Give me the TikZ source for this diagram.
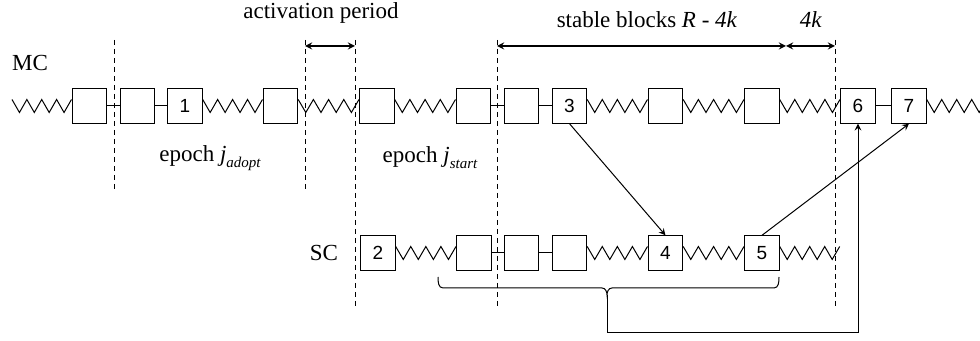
\documentclass[tikz,border=0pt]{standalone}
\usepackage{fontspec}
\setmainfont{Liberation Serif}
\newfontfamily\boxfont{Liberation Sans}
\usetikzlibrary{arrows,decorations}

% zigzag that starts and ends on a peak, always 4 vees
\pgfdeclaredecoration{forkzig}{start}{
  \state{start}[width=+0pt, next state=down,
    persistent precomputation={\pgfmathsetlengthmacro\zighalf{\pgfdecoratedpathlength/8-0.02pt}}]
    {\pgfpathmoveto{\pgfqpoint{0pt}{\pgfdecorationsegmentamplitude}}}
  \state{down}[width=+\zighalf, next state=up]
    {\pgfpathlineto{\pgfqpoint{\zighalf}{-\pgfdecorationsegmentamplitude}}}
  \state{up}[width=+\zighalf, next state=down]
    {\pgfpathlineto{\pgfqpoint{\zighalf}{\pgfdecorationsegmentamplitude}}}
  \state{final}{}
}

\begin{document}
\begin{tikzpicture}[x=0.5pt, y=-0.5pt,
    blk/.style={rectangle, draw=black, line width=0.5pt, minimum size=17.2pt,
                inner sep=0pt, font=\boxfont\fontsize{9.5}{9.5}\selectfont},
    link/.style={line width=0.5pt},
    wavy/.style={line width=0.5pt, decorate,
                 decoration={forkzig, amplitude=3.25pt}},
    epochline/.style={dashed, dash pattern=on 2.5pt off 2pt, line width=0.5pt},
    span/.style={<->, >=stealth, line width=0.6pt},
    arrow/.style={->, >=stealth, line width=0.5pt},
    lbl/.style={font=\fontsize{11.5}{13}\selectfont, inner sep=0pt}
]
    \useasboundingbox (0,0) rectangle (980,341);

    % Chain labels
    \node[lbl] (mclabel) at (30,63) {MC};
    \node[lbl] (sclabel) at (324,253) {SC};

    % Main chain blocks
    \node[blk] (m1) at (89.5,106) {};
    \node[blk] (m2) at (137.5,106) {};
    \node[blk] (m3) at (185,106) {1};
    \node[blk] (m4) at (280.5,106) {};
    \node[blk] (m5) at (377,106) {};
    \node[blk] (m6) at (473.5,106) {};
    \node[blk] (m7) at (521.5,106) {};
    \node[blk] (m8) at (569.5,106) {3};
    \node[blk] (m9) at (665.5,106) {};
    \node[blk] (m10) at (762,106) {};
    \node[blk] (m11) at (858,106) {6};
    \node[blk] (m12) at (909,106) {7};
    \coordinate (mcin) at (12,106);
    \coordinate (mcout) at (987,106);

    % Side chain blocks
    \node[blk] (s1) at (378,253) {2};
    \node[blk] (s2) at (474,253) {};
    \node[blk] (s3) at (521.5,253) {};
    \node[blk] (s4) at (569.5,253) {};
    \node[blk] (s5) at (665.5,253) {4};
    \node[blk] (s6) at (762,253) {5};
    \coordinate (scout) at (840,253);

    % Main chain links
    \draw[wavy] (mcin) -- (m1.west);
    \draw[link] (m1.east) -- (m2.west);
    \draw[link] (m2.east) -- (m3.west);
    \draw[wavy] (m3.east) -- (m4.west);
    \draw[wavy] (m4.east) -- (m5.west);
    \draw[wavy] (m5.east) -- (m6.west);
    \draw[link] (m6.east) -- (m7.west);
    \draw[link] (m7.east) -- (m8.west);
    \draw[wavy] (m8.east) -- (m9.west);
    \draw[wavy] (m9.east) -- (m10.west);
    \draw[wavy] (m10.east) -- (m11.west);
    \draw[link] (m11.east) -- (m12.west);
    \draw[wavy] (m12.east) -- (mcout);

    % Side chain links
    \draw[wavy] (s1.east) -- (s2.west);
    \draw[link] (s2.east) -- (s3.west);
    \draw[link] (s3.east) -- (s4.west);
    \draw[wavy] (s4.east) -- (s5.west);
    \draw[wavy] (s5.east) -- (s6.west);
    \draw[wavy] (s6.east) -- (scout);

    % Epoch boundaries
    \draw[epochline] (114,40) -- (114,190);
    \draw[epochline] (305,40) -- (305,190);
    \draw[epochline] (355,40) -- (355,308);
    \draw[epochline] (497,40) -- (497,308);
    \draw[epochline] (835,40) -- (835,308);

    % Period spans on top
    \coordinate (actL) at (305,46);
    \coordinate (actR) at (355,46);
    \coordinate (stbL) at (497,46);
    \coordinate (stbR) at (786,46);
    \coordinate (fkR) at (835,46);
    \draw[span] (actL) -- (actR);
    \draw[span] (stbL) -- (stbR);
    \draw[span] (stbR) -- (fkR);
    \node[lbl] (actlabel) at (321,13) {activation period};
    \node[lbl] (stblabel) at (647,20) {stable blocks \textit{R} - \textit{4k}};
    \node[lbl] (fklabel) at (811,20) {\textit{4k}};

    % Epoch names
    \node[lbl] (adoptlabel) at (210,158)
        {epoch \textit{j}\raisebox{-3pt}{\fontsize{7.5}{8}\selectfont\itshape adopt}};
    \node[lbl] (startlabel) at (430,158)
        {epoch \textit{j}\raisebox{-3pt}{\fontsize{7.5}{8}\selectfont\itshape start}};

    % Cross-chain references
    \draw[arrow] (m8.south) -- (s5.north);
    \draw[arrow] (s6.north) -- (m12.south);

    % Bracket under side chain
    \coordinate (brL) at (438,277);
    \coordinate (brR) at (779,277);
    \coordinate (brtip) at (607,295);
    \coordinate (bend) at (607,333);
    \draw[link] (brL) to[out=-90, in=180] (443,288) -- (602,288)
        to[out=0, in=90] (brtip) to[out=90, in=180] (612,288) -- (774,288)
        to[out=0, in=-90] (brR);
    \draw[arrow] (brtip) -- (bend) -| (m11.south);

\end{tikzpicture}
\end{document}
